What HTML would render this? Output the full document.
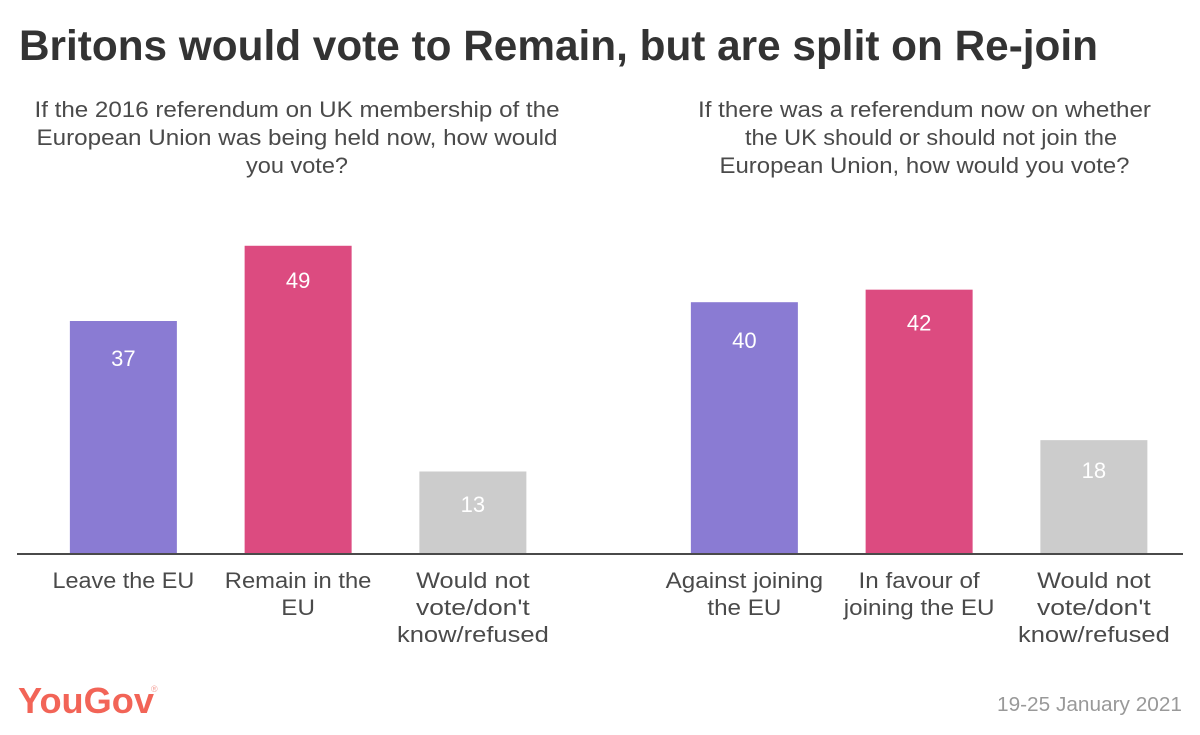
<!DOCTYPE html>
<html lang="en">
<head>
<meta charset="utf-8">
<title>Britons would vote to Remain, but are split on Re-join</title>
<style>
html,body{margin:0;padding:0;background:#fff;}
svg{display:block;font-family:"Liberation Sans",sans-serif;}
.sub{font-size:22px;fill:#4a4a4a;text-anchor:middle;}
</style>
</head>
<body>
<svg id="chart" width="1200" height="735" viewBox="0 0 1200 735" xmlns="http://www.w3.org/2000/svg">
  <rect width="1200" height="735" fill="#fff"/>
  <text x="19" y="60" font-size="43" font-weight="700" fill="#333" textLength="1079" lengthAdjust="spacingAndGlyphs">Britons would vote to Remain, but are split on Re-join</text>
  <g>
    <text class="sub" x="297" y="117" textLength="525" lengthAdjust="spacingAndGlyphs">If the 2016 referendum on UK membership of the</text>
    <text class="sub" x="297" y="145" textLength="521" lengthAdjust="spacingAndGlyphs">European Union was being held now, how would</text>
    <text class="sub" x="297" y="173" textLength="102" lengthAdjust="spacingAndGlyphs">you vote?</text>
  </g>
  <g>
    <text class="sub" x="924.5" y="117" textLength="453" lengthAdjust="spacingAndGlyphs">If there was a referendum now on whether</text>
    <text class="sub" x="931" y="145" textLength="372" lengthAdjust="spacingAndGlyphs">the UK should or should not join the</text>
    <text class="sub" x="924.5" y="173" textLength="410" lengthAdjust="spacingAndGlyphs">European Union, how would you vote?</text>
  </g>
  <g id="bars"></g>
  <rect x="17" y="553" width="1166" height="2" fill="#4a4a4a"/>
  <g id="labels"></g>
  <g>
    <text x="18" y="713" font-size="36" font-weight="700" fill="#f26457" textLength="136" lengthAdjust="spacingAndGlyphs">YouGov</text>
    <text x="151" y="692" font-size="9" fill="#f5a49c">®</text>
  </g>
  <text x="1182" y="711" font-size="20" fill="#999" text-anchor="end" textLength="185" lengthAdjust="spacingAndGlyphs">19-25 January 2021</text>
</svg>
<script>
const leftCategories = [["Leave the EU"], ["Remain in the", "EU"], ["Would not", "vote/don't", "know/refused"]];
const rightCategories = [["Against joining", "the EU"], ["In favour of", "joining the EU"], ["Would not", "vote/don't", "know/refused"]];
const leftValues = [37, 49, 13];
const rightValues = [40, 42, 18];
const barColors = ["#8a7bd3", "#dc4b80", "#cccccc"];

const NS = "http://www.w3.org/2000/svg";
const BASE_Y = 553, UNIT = 6.27, STEP = 174.75, BAR_W = 107;
const WIDEN = 1.1;
const lineWiden = {"Leave the EU": 1.063, "Remain in the": 1.08, "Would not": 1.15, "vote/don't": 1.2, "know/refused": 1.16};
const yScale = v => BASE_Y - v * UNIT;
const xLeft = i => 36 + (i + 0.5) * STEP;
const xRight = i => 657 + (i + 0.5) * STEP;
const barsG = document.getElementById("bars");
const labelsG = document.getElementById("labels");

function drawPanel(cats, vals, xFn, nudges) {
  vals.forEach((v, i) => {
    const cx = xFn(i), top = yScale(v);
    const r = document.createElementNS(NS, "rect");
    
    
    r.setAttribute("x", cx - BAR_W / 2);
    r.setAttribute("y", top);
    r.setAttribute("width", BAR_W);
    r.setAttribute("height", BASE_Y - top);
    r.setAttribute("fill", barColors[i]);
    barsG.appendChild(r);

    const t = document.createElementNS(NS, "text");
    
    
    t.setAttribute("x", cx);
    t.setAttribute("y", top + 43 + nudges[i]);
    t.setAttribute("font-size", "22");
    t.setAttribute("fill", "#fff");
    t.setAttribute("text-anchor", "middle");
    t.textContent = v;
    barsG.appendChild(t);

    cats[i].forEach((line, j) => {
      const l = document.createElementNS(NS, "text");
      
      
      l.setAttribute("x", cx);
      l.setAttribute("y", 588 + j * 27);
      l.setAttribute("font-size", "22");
      l.setAttribute("fill", "#4a4a4a");
      l.setAttribute("text-anchor", "middle");
      l.textContent = line;
      labelsG.appendChild(l);
      l.setAttribute("textLength", (l.getComputedTextLength() * (lineWiden[line] || WIDEN)).toFixed(1));
      l.setAttribute("lengthAdjust", "spacingAndGlyphs");
    });
  });
}
drawPanel(leftCategories, leftValues, xLeft, [2, -1, -2.5]);
drawPanel(rightCategories, rightValues, xRight, [3, -2, -5]);
</script>
</body>
</html>
